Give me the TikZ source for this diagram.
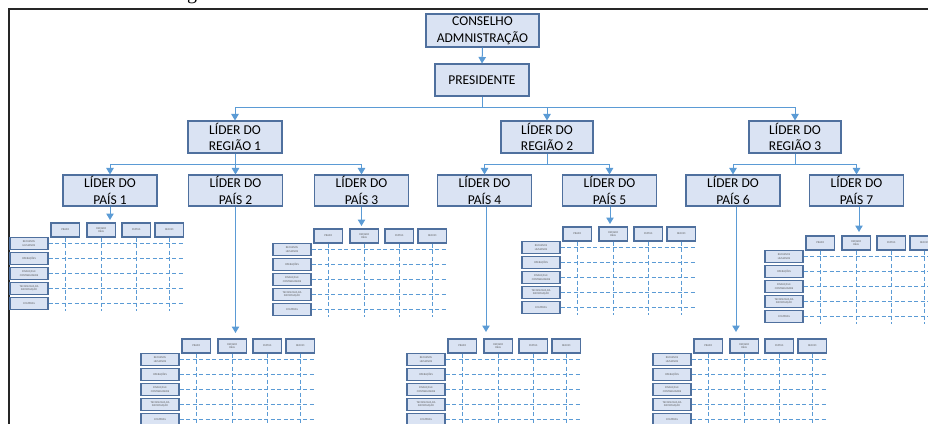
\documentclass[tikz,border=0pt]{standalone}
\usepackage{fontspec}
\setmainfont{Carlito}
\newfontfamily\titlefont{Liberation Serif}
\usetikzlibrary{arrows.meta}

\definecolor{boxfill}{HTML}{DAE3F3}
\definecolor{boxline}{HTML}{4F709E}
\definecolor{linkblue}{HTML}{5B9BD5}
\definecolor{tinytext}{HTML}{5A5A5A}

\tikzset{
  orgbox/.style={draw=boxline, fill=boxfill, line width=1.1pt, align=center,
    inner sep=0pt, font=\fontsize{13.5}{16.7}\selectfont},
  link/.style={draw=linkblue, line width=1pt},
  linkarrow/.style={link, -{Triangle[width=7.5pt,length=6.5pt]}},
  cellhead/.style={draw=boxline, fill=boxfill, line width=1.2pt,
    minimum width=28.5pt, minimum height=14pt, inner sep=0pt, align=center,
    font=\fontsize{2.8}{3.3}\selectfont, text=tinytext},
  celllabel/.style={cellhead, minimum width=38pt, minimum height=11.5pt},
  gridline/.style={draw=linkblue, line width=0.9pt, dash pattern=on 4pt off 2.5pt},
}

% Goal table: four column heads, five area rows, dashed grid
% #1 name prefix, #2 left edge of the first head, #3 top of the heads
\newcommand{\quadro}[3]{%
  \begin{scope}[shift={(#2,#3)}]
    \node[cellhead] (#1h1) at (14.25,7) {PRAZO};
    \node[cellhead] (#1h2) at (50.25,7) {ORÇADO\\REAL};
    \node[cellhead] (#1h3) at (85.25,7) {STATUS};
    \node[cellhead] (#1h4) at (118.25,7) {DESVIO};
    \node[celllabel] (#1r1) at (-22,20.5) {RECURSOS\\HUMANOS};
    \node[celllabel] (#1r2) at (-22,35.5) {OPERAÇÕES};
    \node[celllabel] (#1r3) at (-22,50.5) {FINANÇAS E\\CONTABILIDADE};
    \node[celllabel] (#1r4) at (-22,65.5) {TECNOLOGIA DA\\INFORMAÇÃO};
    \node[celllabel] (#1r5) at (-22,80.5) {COMPRAS};
    \foreach \r in {1,...,5}
      \draw[gridline] (#1r\r.east) -- (#1r\r.east -| #1h4.east);
    \foreach \c in {1,...,4}
      \draw[gridline] (#1h\c.south) -- ++(0,73);
  \end{scope}}

\begin{document}
\begin{tikzpicture}[x=1pt,y=-1pt]
  \useasboundingbox (0,0) rectangle (928,423);

  % page frame and the foot of the heading above it
  \node[font=\titlefont\fontsize{20}{20}\selectfont, anchor=base, inner sep=0pt] (heading) at (192,-1) {g};
  \draw[line width=2pt, black!85] (9,430) -- (9,9) -- (935,9);

  % top of the chart
  \node[orgbox, minimum width=113pt, minimum height=33pt] (cons) at (482.5,30.5) {CONSELHO\\ADMNISTRAÇÃO};
  \node[orgbox, minimum width=94pt, minimum height=32pt] (pres) at (482,80) {PRESIDENTE};

  % regional leaders
  \node[orgbox, minimum width=94pt, minimum height=32pt] (r1) at (235,137) {LÍDER DO\\REGIÃO 1};
  \node[orgbox, minimum width=92pt, minimum height=32pt] (r2) at (547,137) {LÍDER DO\\REGIÃO 2};
  \node[orgbox, minimum width=92pt, minimum height=32pt] (r3) at (795,137) {LÍDER DO\\REGIÃO 3};

  % country leaders
  \foreach \n/\x in {1/110,2/235.5,3/361.5,4/484.5,5/609.5,6/733,7/856.5}
    \node[orgbox, minimum width=94pt, minimum height=31pt] (p\n) at (\x,190.5) {LÍDER DO\\PAÍS \n};

  % goal tables under each country
  \quadro{ta}{51}{223}
  \quadro{tb}{182}{339}
  \quadro{tc}{314}{229}
  \quadro{td}{448}{339}
  \quadro{te}{563}{227}
  \quadro{tf}{694}{339}
  \quadro{tg}{806}{236}

  % connectors
  \coordinate (busA) at (0,107);
  \coordinate (busB) at (0,164);
  \draw[linkarrow] (cons.south) -- (pres.north);
  \draw[link] (pres.south) -- (pres.south |- busA);
  \foreach \r in {r1,r2,r3}
    \draw[linkarrow] (pres.south |- busA) -| (\r.north);

  \foreach \r/\p in {r1/p1,r1/p2,r1/p3,r2/p4,r2/p5,r3/p6,r3/p7}
    \draw[linkarrow] (\r.south) -- (\r.south |- busB) -| (\p.north);

  \coordinate (ea) at (110,220);
  \coordinate (eb) at (235.5,333);
  \coordinate (ec) at (361.5,226);
  \coordinate (ed) at (486,332);
  \coordinate (ee) at (610,224);
  \coordinate (ef) at (736,332);
  \coordinate (eg) at (859,232);
  \foreach \p/\e in {p1/ea,p2/eb,p3/ec,p4/ed,p5/ee,p6/ef,p7/eg}
    \draw[linkarrow] (\p.south -| \e) -- (\e);
\end{tikzpicture}
\end{document}
